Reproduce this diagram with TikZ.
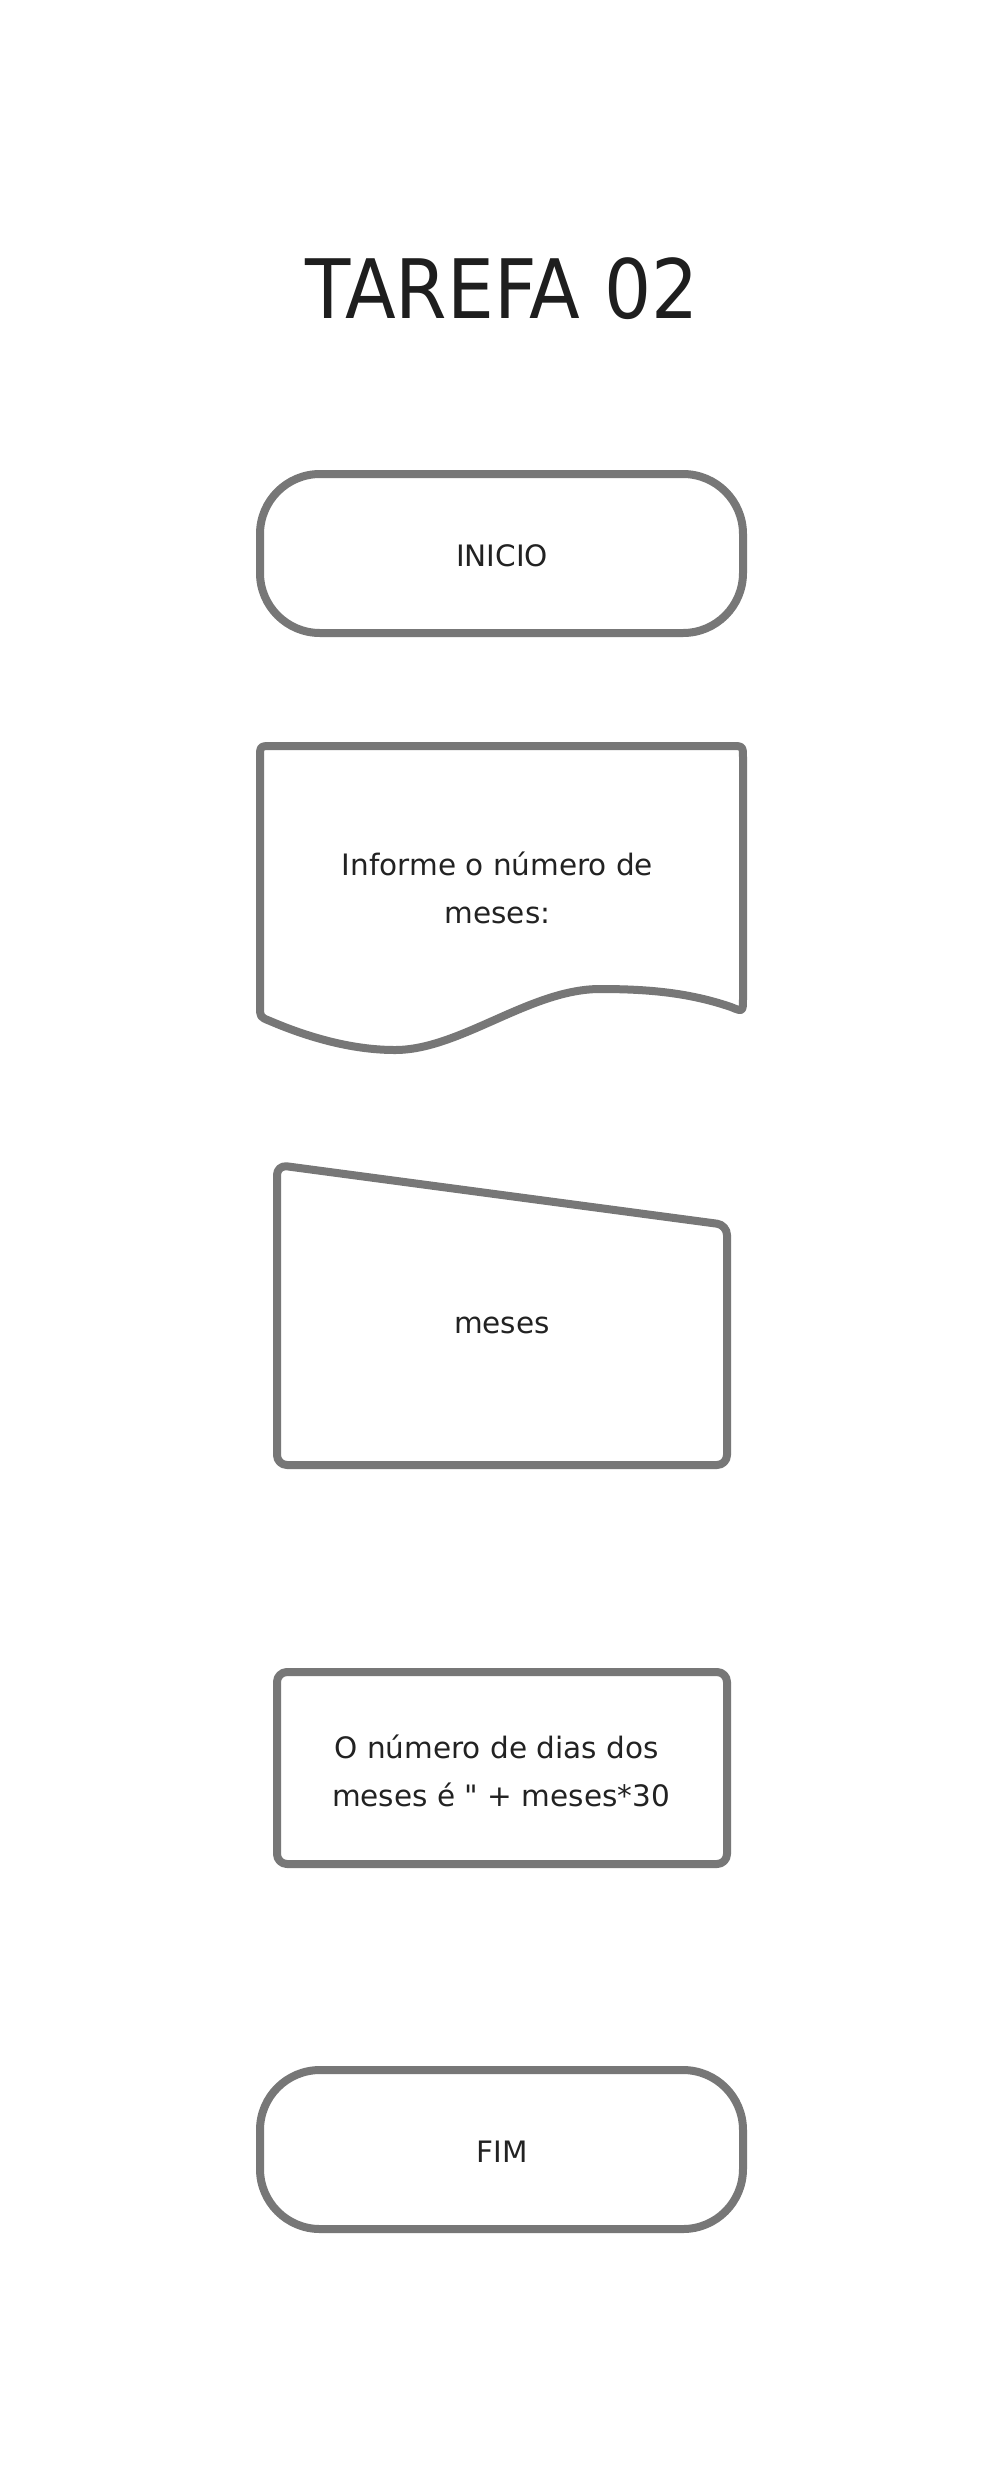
\documentclass[tikz,border=0pt]{standalone}
\usepackage{fontspec}
\setmainfont{DejaVu Sans}[Ligatures=TeXOff]
\usepackage{graphicx}
\definecolor{strokegray}{HTML}{777777}
\definecolor{txtcol}{HTML}{222222}
\definecolor{titlecol}{HTML}{1E1E1E}
\begin{document}
\begin{tikzpicture}[x=1pt,y=-1pt,
  shapeline/.style={draw=strokegray, line width=8pt, line join=round},
  txtlabel/.style={text=txtcol, inner sep=0pt, anchor=base, align=center,
    font=\fontsize{29.5}{48}\selectfont},
  titletext/.style={text=titlecol, inner sep=0pt, anchor=base,
    font=\fontsize{82}{90}\selectfont}]
\useasboundingbox (0,0) rectangle (1004,2490);
\fill[white] (0,0) rectangle (1004,2490);

% title
\node[titletext] (title) at (502,318) {\scalebox{0.904}[1]{TAREFA 02}};

% INICIO terminal
\draw[shapeline, rounded corners=60pt] (260,474) rectangle (743,633);
\node[txtlabel] (inicio) at (502,566) {INICIO};

% document (display) shape
\draw[shapeline] (260,1006) -- (260,758) .. controls (260,746) .. (272,746)
  -- (731,746) .. controls (743,746) .. (743,758) -- (743,998)
  .. controls (743,1012) .. (731,1007)
  .. controls (690,993) and (650,989) .. (600,989)
  .. controls (530,989) and (460,1050) .. (395,1050)
  .. controls (350,1050) and (305,1036) .. (270,1021)
  .. controls (260,1017) .. (260,1006) -- cycle;
\node[txtlabel] (prompt) at (497.5,923) {Informe o número de\\meses:};

% manual input
\draw[shapeline, rounded corners=10pt] (277,1165) -- (727,1225) -- (727,1465) -- (277,1465) -- cycle;
\node[txtlabel] (entrada) at (502,1333) {meses};

% process
\draw[shapeline, rounded corners=10pt] (277,1672) rectangle (727,1864);
\node[txtlabel] (saida) at (501,1806) {O número de dias dos\hspace*{9pt}\\meses é " + meses*30};

% FIM terminal
\draw[shapeline, rounded corners=60pt] (260,2070) rectangle (743,2229);
\node[txtlabel] (fim) at (502,2162) {FIM};
\end{tikzpicture}
\end{document}
